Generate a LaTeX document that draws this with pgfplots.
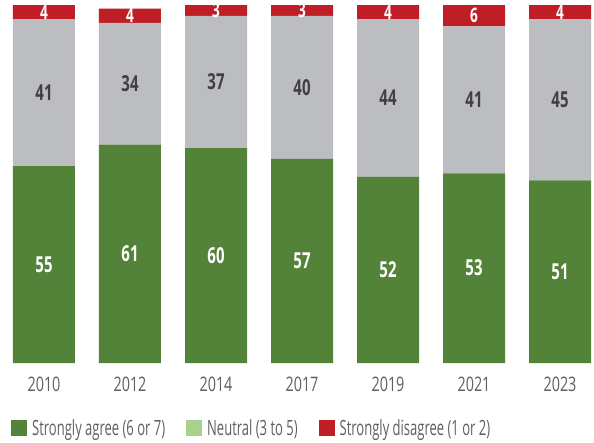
\documentclass[border=0pt]{standalone}
\usepackage{fontspec}
\setmainfont{Open Sans}
\newfontfamily\tickfont[FakeStretch=0.72]{Open Sans}
\newfontfamily\legfont[FakeStretch=0.62]{Open Sans}
\newfontfamily\valfont[FakeStretch=0.68]{Open Sans}
\usepackage{pgfplots}
\pgfplotsset{compat=1.18}
\usepackage{pgfplotstable}
\definecolor{agree}{RGB}{83,130,57}
\definecolor{neutral}{RGB}{188,189,193}
\definecolor{disagree}{RGB}{192,30,38}
\definecolor{neutralleg}{RGB}{169,209,142}
\definecolor{tickgray}{RGB}{95,95,95}
\definecolor{labgray}{RGB}{64,64,64}
\pgfplotstableread{
x year agree neutral disagree
0 2010 55 41 4
1 2012 61 34 4
2 2014 60 37 3
3 2017 57 40 3
4 2019 52 44 4
5 2021 53 41 6
6 2023 51 45 4
}\datatable
\begin{document}
\begin{tikzpicture}
\begin{axis}[
  ybar stacked, bar width=62pt,
  scale only axis, width=594pt, height=363pt,
  xmin=-0.5116, xmax=6.3953, ymin=0, ymax=101.4,
  axis line style={draw=none},
  ytick=\empty,
  xtick=data,
  xticklabels={2010,2012,2014,2017,2019,2021,2023},
  major tick length=0pt,
  xticklabel style={font=\tickfont\fontsize{20}{20}\selectfont, text=tickgray, yshift=-10pt},
  visualization depends on={rawy \as \rawy},
  nodes near coords={\pgfmathprintnumber[fixed,precision=0,assume math mode=true]{\rawy}},
  every node near coord/.append style={anchor=center, inner sep=0pt},
  legend image code/.code={\fill[#1] (0pt,-8pt) rectangle (16pt,8pt);},
  legend style={at={(11/594,-0.179)}, anchor=west, draw=none, fill=none, inner sep=0pt,
    font=\legfont\fontsize{21}{21}\selectfont, text=tickgray,
    nodes={inner sep=3pt},
    /tikz/every odd column/.append style={column sep=2pt},
    /tikz/every even column/.append style={column sep=18pt}},
  legend columns=3,
  clip=false,
]
\addplot[fill=agree, draw=none, forget plot,
  every node near coord/.append style={text=white, font=\valfont\bfseries\fontsize{22}{22}\selectfont}]
  table[x=x, y=agree] {\datatable};
\addplot[fill=neutral, draw=none, forget plot,
  every node near coord/.append style={text=labgray, font=\valfont\bfseries\fontsize{22}{22}\selectfont}]
  table[x=x, y=neutral] {\datatable};
\addplot[fill=disagree, draw=none, forget plot,
  every node near coord/.append style={text=white, font=\valfont\bfseries\fontsize{20}{20}\selectfont}]
  table[x=x, y=disagree] {\datatable};
\addlegendimage{fill=agree, draw=none}
\addlegendentry{Strongly agree (6 or 7)}
\addlegendimage{fill=neutralleg, draw=none}
\addlegendentry{Neutral (3 to 5)}
\addlegendimage{fill=disagree, draw=none}
\addlegendentry{Strongly disagree (1 or 2)}
\end{axis}
\pgfresetboundingbox
\path[use as bounding box] (0,-79pt) rectangle (594pt,363pt);
\end{tikzpicture}
\end{document}
